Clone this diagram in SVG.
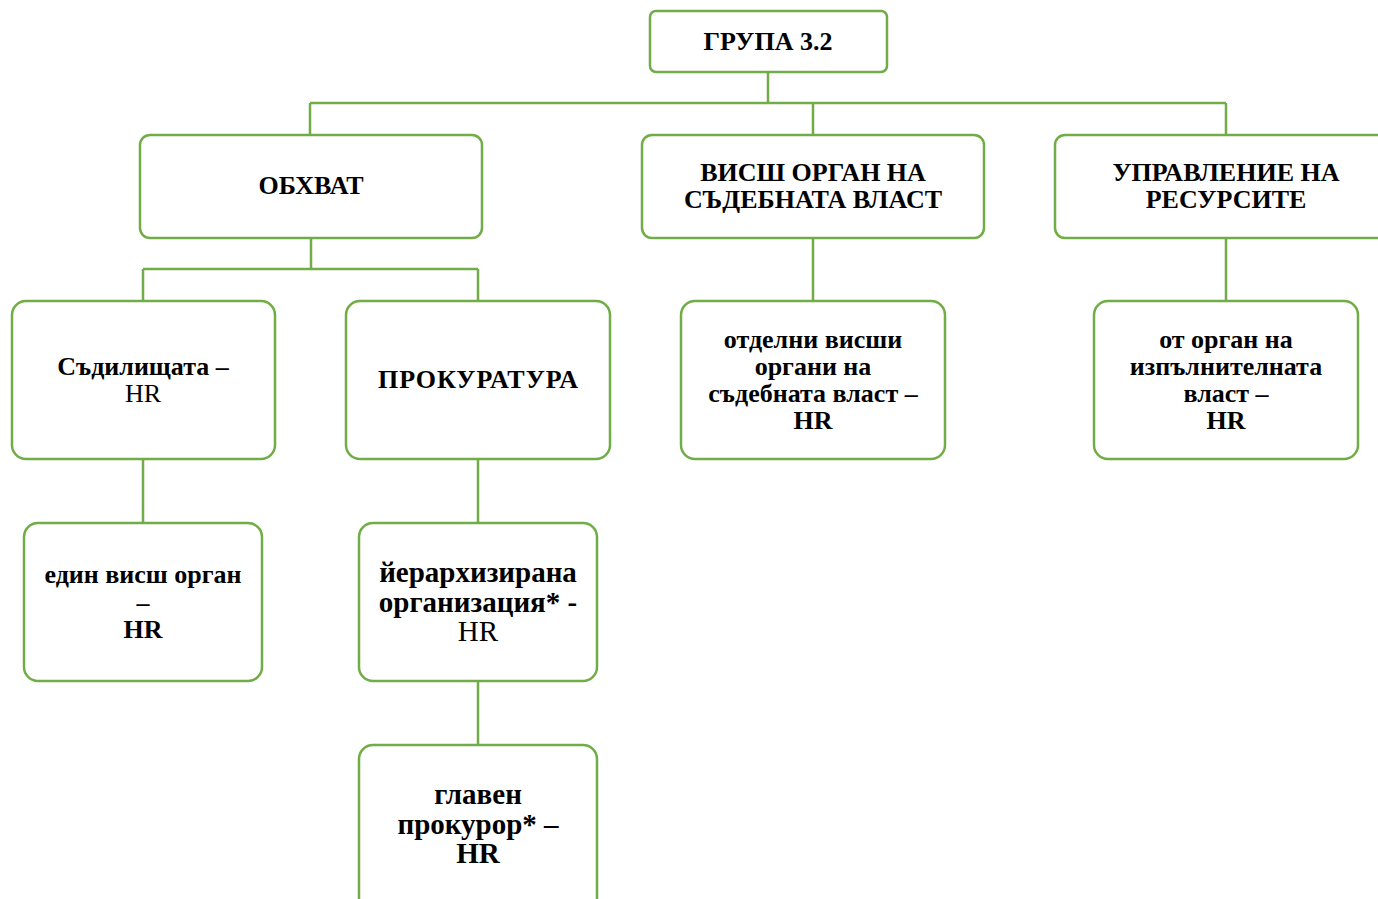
<svg xmlns="http://www.w3.org/2000/svg" width="1378" height="899" viewBox="0 0 1378 899">
<style>
.box{fill:#fff;stroke:#70AD47;stroke-width:2.5}
.con{fill:none;stroke:#70AD47;stroke-width:2.5}
text{font-family:"Liberation Serif","Times New Roman",serif;fill:#000;text-anchor:middle}
.b{font-weight:bold}
.s22{font-size:26px}
.s24{font-size:29px}
.r{font-weight:normal}
</style>
<rect width="1378" height="899" fill="#fff"/>
<g id="connectors">
<path class="con" d="M768,72V103M310,103H1226M310,103V135M813,103V135M1226,103V135"/>
<path class="con" d="M311,238V269M143,269H478M143,269V301M478,269V301"/>
<path class="con" d="M813,238V301M1226,238V301"/>
<path class="con" d="M143,459V523M478,459V523M478,681V745"/>
</g>
<g id="n-root">
<rect class="box" x="650" y="11" width="237" height="61" rx="6"/>
<text class="b s22" x="768" y="50">ГРУПА 3.2</text>
</g>
<g id="n-obhvat">
<rect class="box" x="140" y="135" width="342" height="103" rx="10"/>
<text class="b s22" x="311" y="194">ОБХВАТ</text>
</g>
<g id="n-vissh">
<rect class="box" x="642" y="135" width="342" height="103" rx="10"/>
<text class="b s22"><tspan x="813" y="181">ВИСШ ОРГАН НА</tspan><tspan x="813" y="208">СЪДЕБНАТА ВЛАСТ</tspan></text>
</g>
<g id="n-upravlenie">
<rect class="box" x="1055" y="135" width="342" height="103" rx="10"/>
<text class="b s22"><tspan x="1226" y="181">УПРАВЛЕНИЕ НА</tspan><tspan x="1226" y="208">РЕСУРСИТЕ</tspan></text>
</g>
<g id="n-sadilishta">
<rect class="box" x="12" y="301" width="263" height="158" rx="14"/>
<text class="b s22"><tspan x="143" y="375">Съдилищата –</tspan><tspan class="r" x="143" y="402">HR</tspan></text>
</g>
<g id="n-prokuratura">
<rect class="box" x="346" y="301" width="264" height="158" rx="14"/>
<text class="b s22" x="478" y="388" textLength="200">ПРОКУРАТУРА</text>
</g>
<g id="n-otdelni">
<rect class="box" x="681" y="301" width="264" height="158" rx="14"/>
<text class="b s22"><tspan x="813" y="348">отделни висши</tspan><tspan x="813" y="375">органи на</tspan><tspan x="813" y="402">съдебната власт –</tspan><tspan x="813" y="429">HR</tspan></text>
</g>
<g id="n-otorgan">
<rect class="box" x="1094" y="301" width="264" height="158" rx="14"/>
<text class="b s22"><tspan x="1226" y="348">от орган на</tspan><tspan x="1226" y="375">изпълнителната</tspan><tspan x="1226" y="402">власт –</tspan><tspan x="1226" y="429">HR</tspan></text>
</g>
<g id="n-edin">
<rect class="box" x="24" y="523" width="238" height="158" rx="14"/>
<text class="b s22"><tspan x="143" y="583">един висш орган</tspan><tspan x="143" y="611">–</tspan><tspan x="143" y="638">HR</tspan></text>
</g>
<g id="n-ierarh">
<rect class="box" x="359" y="523" width="238" height="158" rx="14"/>
<text class="b s24"><tspan x="478" y="582">йерархизирана</tspan><tspan x="478" y="612">организация* -</tspan><tspan class="r" x="478" y="641">HR</tspan></text>
</g>
<g id="n-glaven">
<rect class="box" x="359" y="745" width="238" height="170" rx="14"/>
<text class="b s24"><tspan x="478" y="804">главен</tspan><tspan x="478" y="834">прокурор* –</tspan><tspan x="478" y="863">HR</tspan></text>
</g>
</svg>
